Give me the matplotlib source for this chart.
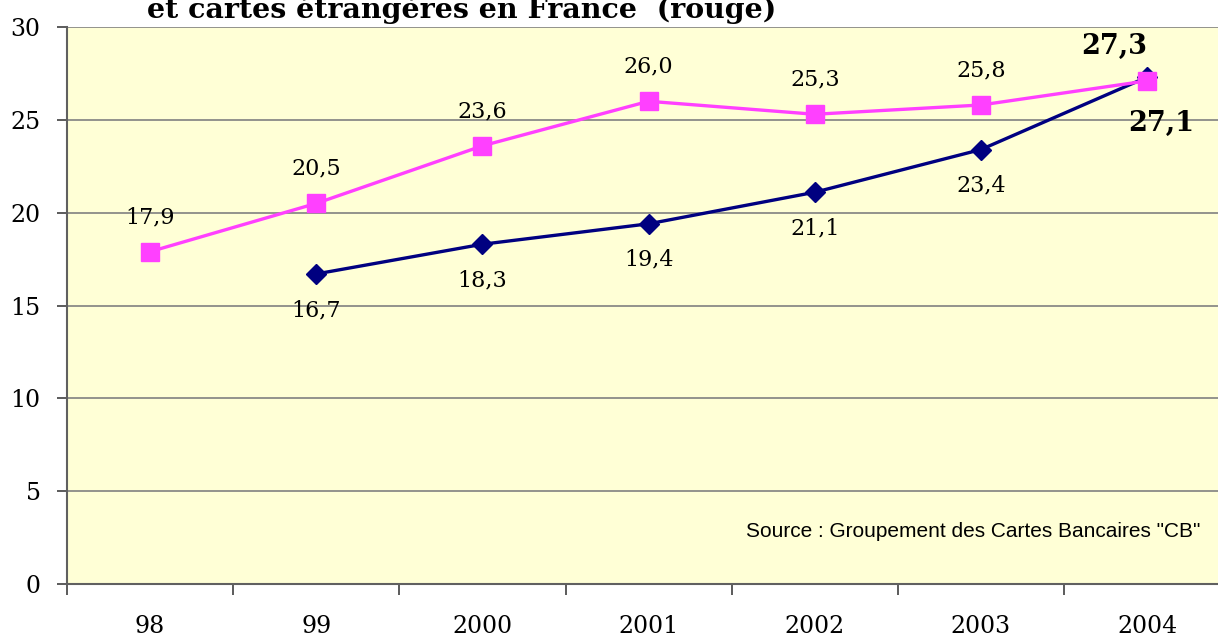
import matplotlib.pyplot as plt
import numpy as np

# data
years = ['98', '99', '2000', '2001', '2002', '2003', '2004']
rouge = [17.9, 20.5, 23.6, 26.0, 25.3, 25.8, 27.1]
bleu = [np.nan, 16.7, 18.3, 19.4, 21.1, 23.4, 27.3]
rouge_labels = ['17,9', '20,5', '23,6', '26,0', '25,3', '25,8']
bleu_labels = ['', '16,7', '18,3', '19,4', '21,1', '23,4']

serif = 'DejaVu Serif'

fig = plt.figure(figsize=(12.18, 6.37), dpi=100)
ax = fig.add_axes([0.055, 0.0832, 0.955, 0.8744])
ax.set_facecolor('#FFFFD6')

x = np.arange(len(years))
ax.plot(x, bleu, color='#000080', lw=2.4, marker='D', ms=10, zorder=3)
ax.plot(x, rouge, color='#FF40FF', lw=2.4, marker='s', ms=13, zorder=4)

# data labels
for i, lab in enumerate(rouge_labels):
    ax.annotate(lab, (x[i], rouge[i]), xytext=(0, 25), textcoords='offset points',
                ha='center', va='center', fontsize=16, family=serif)
for i, lab in enumerate(bleu_labels):
    if lab:
        ax.annotate(lab, (x[i], bleu[i]), xytext=(0, -26), textcoords='offset points',
                    ha='center', va='center', fontsize=16, family=serif)
ax.annotate('27,3', (x[6], bleu[6]), xytext=(-24, 22), textcoords='offset points',
            ha='center', va='center', fontsize=19.5, fontweight='bold', family=serif)
ax.annotate('27,1', (x[6], rouge[6]), xytext=(10, -31), textcoords='offset points',
            ha='center', va='center', fontsize=19.5, fontweight='bold', family=serif)

ax.set_xlim(-0.5, len(years) - 0.5)
ax.set_ylim(0, 30)
ax.set_yticks(np.arange(0, 31, 5))
ax.yaxis.grid(True, color='#808080', lw=1.2)
ax.set_axisbelow(True)

ax.set_xticks(x)
ax.set_xticklabels(years, family=serif, fontsize=17)
ax.set_xticks(np.arange(-0.5, len(years)), minor=True)
ax.tick_params(axis='x', which='major', length=0, pad=22)
ax.tick_params(axis='x', which='minor', length=8, width=1.2, color='#404040')
ax.tick_params(axis='y', length=7, width=1.2, color='#404040', pad=12)
for t in ax.get_yticklabels():
    t.set_family(serif)
    t.set_fontsize(17)

for s in ['top', 'right']:
    ax.spines[s].set_visible(False)
ax.spines['left'].set_color('#606060')
ax.spines['bottom'].set_color('#606060')
ax.spines['left'].set_linewidth(1.5)
ax.spines['bottom'].set_linewidth(1.5)

ax.text(0.9745, 0.095, 'Source : Groupement des Cartes Bancaires "CB"', transform=ax.transAxes,
        ha='right', va='center', fontsize=15, family='Liberation Sans')

fig.text(0.379, 0.985, 'et cartes étrangères en France  (rouge)', ha='center', va='center',
         fontsize=20.5, fontweight='bold', family=serif)

fig.savefig('out.png', dpi=100)
